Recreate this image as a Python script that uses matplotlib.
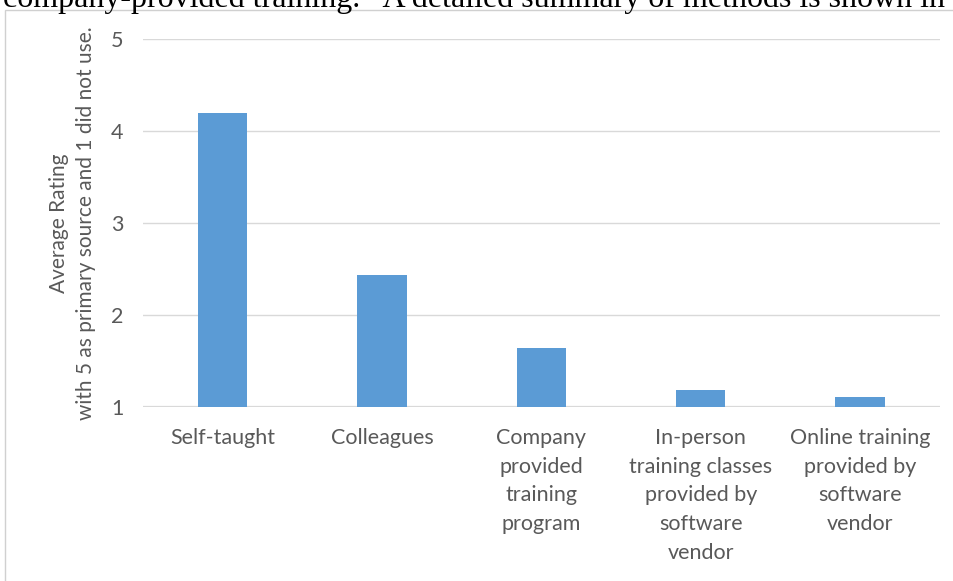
import matplotlib.pyplot as plt
from matplotlib.patches import Rectangle

categories = [
    "Self-taught",
    "Colleagues",
    "Company\nprovided\ntraining\nprogram",
    "In-person\ntraining classes\nprovided by\nsoftware\nvendor",
    "Online training\nprovided by\nsoftware\nvendor",
]
ratings = [4.20, 2.43, 1.64, 1.18, 1.11]
y_ticks = [1, 2, 3, 4, 5]
y_label = "Average Rating\nwith 5 as primary source and 1 did not use."
page_text = "company-provided training.   A detailed summary of methods is shown in"

plt.rcParams["font.family"] = ["Lato", "DejaVu Sans"]
text_gray = "#595959"
grid_gray = "#d9d9d9"

fig = plt.figure(figsize=(9.54, 5.81), dpi=100)
ax = fig.add_axes([0.150, 0.2995, 0.835, 0.6335])

x = range(len(categories))
ax.bar(x, [r - 1 for r in ratings], bottom=1, width=0.31, color="#5b9bd5", zorder=2)

ax.set_ylim(1, 5)
ax.set_xlim(-0.5, len(categories) - 0.5)
ax.set_yticks(y_ticks)
ax.set_yticklabels([str(t) for t in y_ticks])
ax.set_xticks(list(x))
ax.set_xticklabels(categories, linespacing=1.55)
ax.grid(axis="y", color=grid_gray, linewidth=1.0, zorder=0)
ax.axhline(1, color=grid_gray, linewidth=1.6, zorder=1)
for spine in ax.spines.values():
    spine.set_visible(False)
ax.tick_params(axis="both", length=0, colors=text_gray, labelsize=15.5)
ax.tick_params(axis="y", pad=14)
ax.tick_params(axis="x", pad=15)
for lbl in ax.get_yticklabels() + ax.get_xticklabels():
    lbl.set_color(text_gray)
ax.set_ylabel(y_label, color=text_gray, fontsize=15, labelpad=11, linespacing=1.4)

# chart frame and clipped text of the surrounding page
fig.patches.append(Rectangle((5 / 954, -0.1), 1.2, 1 - 10 / 581 + 0.1,
                             transform=fig.transFigure, fill=False,
                             edgecolor="#d0d0d0", linewidth=1.0))
fig.text(0.003, 1 - 7 / 581, page_text, family="Liberation Serif",
         fontsize=23, color="black", va="baseline", ha="left")

fig.savefig("out.png", dpi=100, facecolor="white")
